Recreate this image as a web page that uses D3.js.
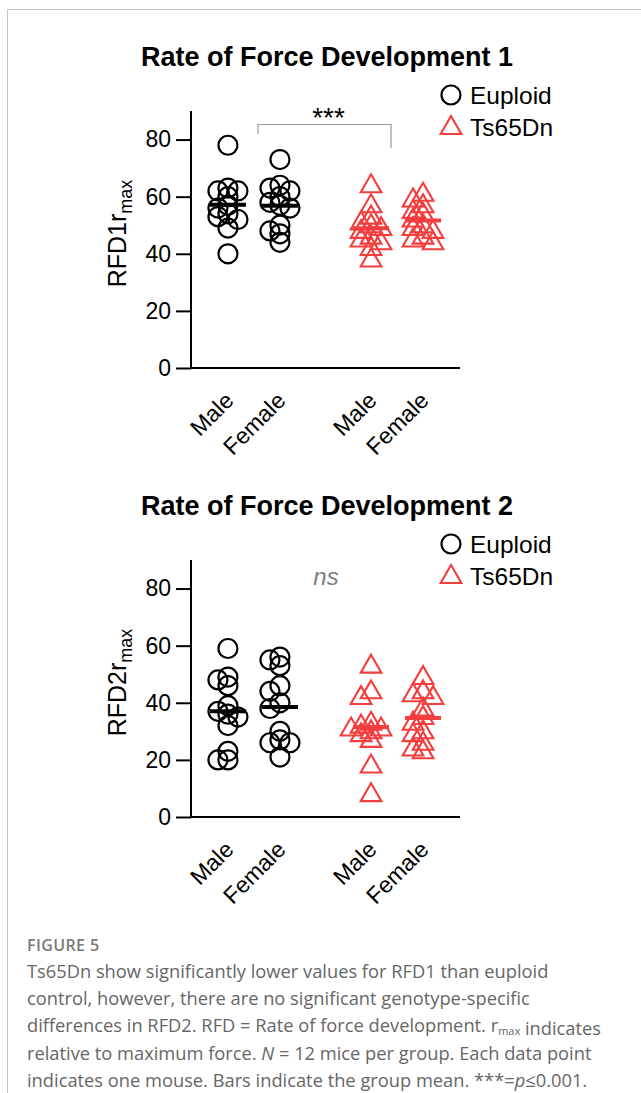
<!DOCTYPE html>
<html><head><meta charset="utf-8">
<script src="https://cdn.jsdelivr.net/npm/d3@7"></script>
<style>
body{margin:0;background:#fff;}
svg{display:block;}
</style></head>
<body><svg id="fig" width="641" height="1093"></svg>
<script>
// Groups and axis ticks
const genotypes = ["Euploid", "Ts65Dn"];
const sexes = ["Male", "Female"];
const yTicks = [0, 20, 40, 60, 80];

// RFD1 r_max, one value per mouse (N = 12 per group)
const rfd1EuploidMale   = [78, 63, 62, 62, 60, 57, 56, 54, 53, 52, 49, 40];
const rfd1EuploidFemale = [73, 64, 63, 62, 60, 58, 57, 56, 50, 48, 47, 44];
const rfd1TsMale        = [64, 57, 53, 51, 50, 49, 48, 46, 45, 44, 42, 38];
const rfd1TsFemale      = [61, 59, 57, 55, 54, 52, 50, 49, 48, 46, 45, 44];

// RFD2 r_max, one value per mouse
const rfd2EuploidMale   = [59, 49, 48, 46, 39, 37, 36, 35, 32, 23, 20, 20];
const rfd2EuploidFemale = [56, 55, 53, 46, 44, 40, 38, 30, 27, 26, 26, 21];
const rfd2TsMale        = [53, 44, 42, 33, 32, 31, 31, 30, 29, 27, 18, 8];
const rfd2TsFemale      = [49, 44, 43, 42, 38, 35, 33, 30, 29, 26, 24, 23];

const RED = "#f43d3d";
const FONT = "'Liberation Sans', Arial, sans-serif";

const svg = d3.select("#fig");

// light frame at left and top
svg.append("path").attr("d", "M7.5,1093 V9.5 H641")
  .attr("fill", "none").attr("stroke", "#c4c4c4").attr("stroke-width", 1);

const panels = [
  {
    title: "Rate of Force Development 1", num: "1", offset: 0,
    groups: [
      {g: "Euploid", s: "Male", v: rfd1EuploidMale},
      {g: "Euploid", s: "Female", v: rfd1EuploidFemale},
      {g: "Ts65Dn", s: "Male", v: rfd1TsMale},
      {g: "Ts65Dn", s: "Female", v: rfd1TsFemale}
    ],
    annot: "***"
  },
  {
    title: "Rate of Force Development 2", num: "2", offset: 449,
    groups: [
      {g: "Euploid", s: "Male", v: rfd2EuploidMale},
      {g: "Euploid", s: "Female", v: rfd2EuploidFemale},
      {g: "Ts65Dn", s: "Male", v: rfd2TsMale},
      {g: "Ts65Dn", s: "Female", v: rfd2TsFemale}
    ],
    annot: "ns"
  }
];

const xGeno = d3.scalePoint().domain(genotypes).range([191, 460]).padding(0.44);
const xSex = d3.scalePoint().domain(sexes).range([-26, 26]);
const xPos = (g, s) => xGeno(g) + xSex(s);

const triPath = d3.symbol().type(d3.symbolTriangle).size(185)();

// horizontal dodge so overlapping points spread sideways
function dodge(values, y, minDist, step) {
  const order = values.map((v, i) => i).sort((a, b) => values[b] - values[a]);
  const placed = [];
  const out = new Array(values.length);
  order.forEach(i => {
    const py = y(values[i]);
    const cands = [0];
    for (let k = 1; k <= 4; k++) { cands.push(-k * step, k * step); }
    let dx = cands[cands.length - 1];
    for (const c of cands) {
      if (placed.every(p => Math.hypot(p.dx - c, p.y - py) >= minDist)) { dx = c; break; }
    }
    placed.push({dx, y: py});
    out[i] = dx;
  });
  return out;
}

panels.forEach(P => {
  const g = svg.append("g").attr("transform", `translate(0,${P.offset})`);
  const y = d3.scaleLinear().domain([0, 90]).range([368, 111]);

  // title
  g.append("text").attr("x", 327).attr("y", 66).attr("text-anchor", "middle")
    .attr("font-family", FONT).attr("font-weight", "bold").attr("font-size", 27)
    .text(P.title);

  // legend
  const lg = g.append("g").attr("font-family", FONT).attr("font-size", 24.5);
  lg.append("circle").attr("cx", 451).attr("cy", 95).attr("r", 9.5)
    .attr("fill", "none").attr("stroke", "#000").attr("stroke-width", 2.2);
  lg.append("text").attr("x", 470).attr("y", 104).text("Euploid");
  lg.append("path").attr("d", triPath).attr("transform", "translate(451,128)")
    .attr("fill", "none").attr("stroke", RED).attr("stroke-width", 2.1);
  lg.append("text").attr("x", 470).attr("y", 136).text("Ts65Dn");

  // y axis
  const ya = g.append("g").attr("transform", "translate(191,0)")
    .call(d3.axisLeft(y).tickValues(yTicks).tickSize(15).tickPadding(5).tickSizeOuter(0));
  ya.select(".domain").attr("stroke-width", 2).attr("d", `M0,${y(90)}V${y(0)}`);
  ya.selectAll(".tick line").attr("stroke-width", 2);
  ya.selectAll(".tick text").attr("font-family", FONT).attr("font-size", 23).attr("fill", "#000");

  // x axis line
  g.append("line").attr("x1", 190).attr("x2", 460).attr("y1", y(0)).attr("y2", y(0))
    .attr("stroke", "#000").attr("stroke-width", 2);

  // y label
  const yl = g.append("text").attr("transform", `translate(126,${(y(0) + y(90)) / 2 - 6}) rotate(-90)`)
    .attr("text-anchor", "middle").attr("font-family", FONT).attr("font-size", 25);
  yl.append("tspan").text("RFD" + P.num + "r");
  yl.append("tspan").attr("font-size", 18).attr("dy", 6).text("max");

  // category labels
  P.groups.forEach(d => {
    const cx = xPos(d.g, d.s);
    g.append("text").attr("transform", `translate(${cx + 7},${y(0) + 34}) rotate(-45)`)
      .attr("text-anchor", "end").attr("font-family", FONT).attr("font-size", 23)
      .text(d.s);
  });

  // points and mean bars
  P.groups.forEach(d => {
    const cx = xPos(d.g, d.s);
    const col = d.g === "Euploid" ? "#000" : RED;
    const offs = dodge(d.v, y, 8, 5);
    const pts = g.append("g");
    if (d.g === "Euploid") {
      pts.selectAll("circle").data(d.v).join("circle")
        .attr("cx", (v, i) => cx + offs[i]).attr("cy", v => y(v)).attr("r", 9.5)
        .attr("fill", "none").attr("stroke", col).attr("stroke-width", 2.2);
    } else {
      pts.selectAll("path").data(d.v).join("path")
        .attr("d", triPath)
        .attr("transform", (v, i) => `translate(${cx + offs[i]},${y(v) + 1})`)
        .attr("fill", "none").attr("stroke", col).attr("stroke-width", 2.1);
    }
    const m = d3.mean(d.v);
    g.append("line").attr("x1", cx - 18).attr("x2", cx + 18)
      .attr("y1", y(m)).attr("y2", y(m)).attr("stroke", col).attr("stroke-width", 4);
  });

  // significance annotation
  if (P.annot === "***") {
    const xl = xPos("Euploid", "Female") - 22, xr = xPos("Ts65Dn", "Male") + 20;
    g.append("path").attr("d", `M${xl},134V124.5H${xr}V148`)
      .attr("fill", "none").attr("stroke", "#9a9a9a").attr("stroke-width", 1.2);
    g.append("text").attr("x", (xl + xr) / 2 + 4).attr("y", 127).attr("text-anchor", "middle")
      .attr("font-family", FONT).attr("font-size", 28).text("***");
  } else {
    g.append("text").attr("x", 326).attr("y", 136).attr("text-anchor", "middle")
      .attr("font-family", FONT).attr("font-style", "italic").attr("font-size", 24)
      .attr("fill", "#808080").text("ns");
  }
});

// caption
const cap = svg.append("g").attr("font-family", "'Open Sans', 'Noto Sans', sans-serif").attr("fill", "#666");
cap.append("text").attr("x", 27).attr("y", 951).attr("font-size", 16).attr("letter-spacing", 0.4)
  .attr("font-weight", 600).attr("fill", "#7a7a7a").text("FIGURE 5");
const lines = [
  ["Ts65Dn show significantly lower values for RFD1 than euploid"],
  ["control, however, there are no significant genotype-specific"],
  ["differences in RFD2. RFD = Rate of force development. r", {sub: "max"}, " indicates"],
  ["relative to maximum force. ", {it: "N"}, " = 12 mice per group. Each data point"],
  ["indicates one mouse. Bars indicate the group mean. ***=", {it: "p"}, "≤0.001."]
];
lines.forEach((parts, i) => {
  const t = cap.append("text").attr("x", 27).attr("y", 978 + i * 27.2).attr("font-size", 18.3);
  parts.forEach(p => {
    if (typeof p === "string") t.append("tspan").text(p);
    else if (p.sub) {
      t.append("tspan").attr("font-size", 11).attr("dy", 3).text(p.sub);
      t.append("tspan").attr("dy", -3).text("");
    } else t.append("tspan").attr("font-style", "italic").text(p.it);
  });
});
</script>
</body></html>
